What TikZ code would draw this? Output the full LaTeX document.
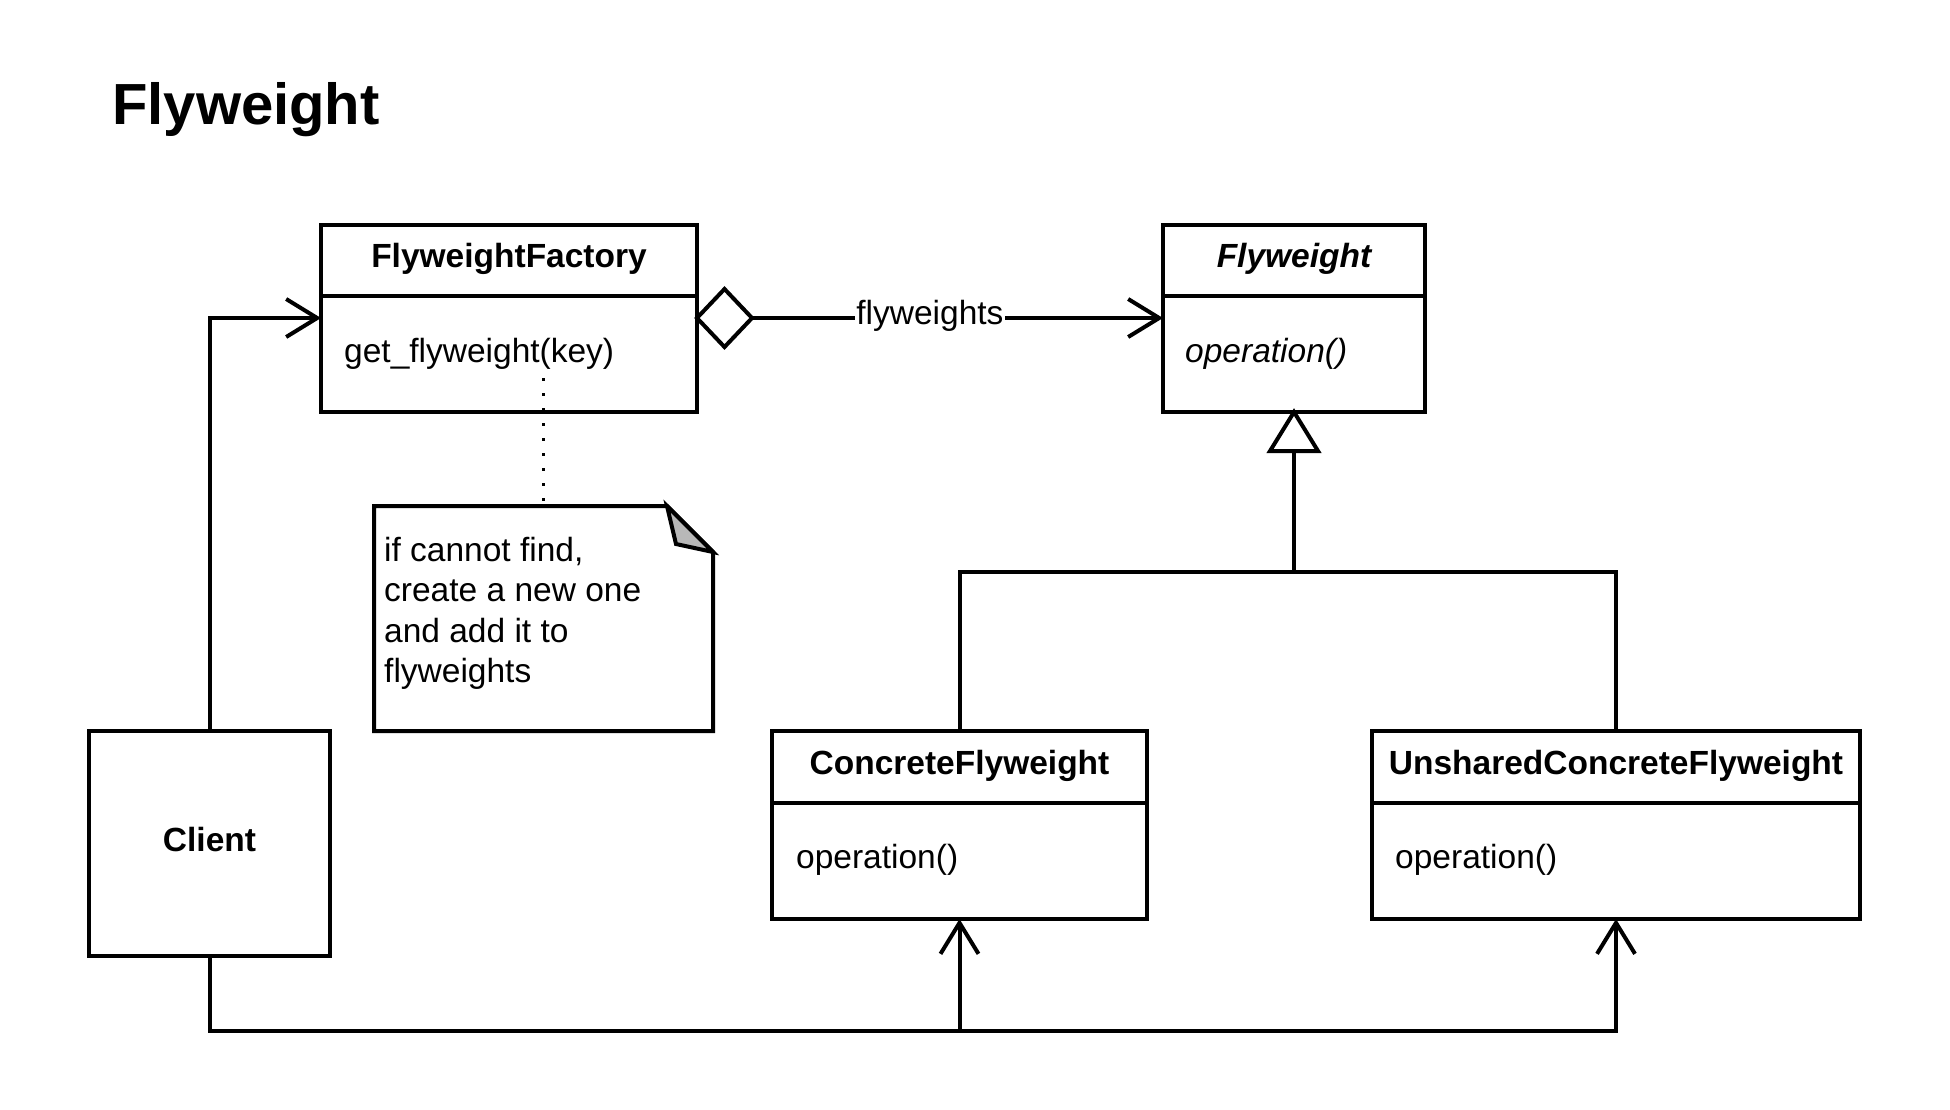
\documentclass[tikz,border=0pt]{standalone}
\usepackage{fontspec}
\setmainfont{Liberation Sans}
\usetikzlibrary{arrows.meta}
\begin{document}
\begin{tikzpicture}[x=1pt,y=-1pt,
  box/.style={draw, line width=4pt, inner sep=0pt, outer sep=0pt, anchor=north west},
  txt/.style={inner sep=0pt, font=\fontsize{33.5}{40}\selectfont},
  btxt/.style={inner sep=0pt, font=\fontsize{33.5}{40}\selectfont\bfseries},
  conn/.style={line width=4pt},
  barb/.style={-{Straight Barb[length=31pt,width=38pt]}},
]
\useasboundingbox[fill=white] (0,0) rectangle (1950,1109);

% title
\node[inner sep=0pt, anchor=base west, font=\fontsize{58}{70}\selectfont\bfseries] (title) at (112,124) {Flyweight};

% FlyweightFactory
\node[box, minimum width=376pt, minimum height=71pt] (ffh) at (321,225) {};
\node[box, minimum width=376pt, minimum height=116pt] (ffb) at (321,296) {};
\node[btxt, anchor=base] (fft) at (ffh.center |- 0,267) {FlyweightFactory};
\node[txt, anchor=base west] (ffop) at (344,362) {get\_flyweight(key)};

% Flyweight
\node[box, minimum width=262pt, minimum height=71pt] (fwh) at (1163,225) {};
\node[box, minimum width=262pt, minimum height=116pt] (fwb) at (1163,296) {};
\node[btxt, anchor=base, font=\fontsize{33.5}{40}\selectfont\bfseries\itshape] (fwt) at (fwh.center |- 0,267) {Flyweight};
\node[txt, anchor=base west, font=\fontsize{33.5}{40}\selectfont\itshape] (fwop) at (1185,362) {operation()};

% Client
\node[box, minimum width=241pt, minimum height=225pt] (client) at (89,731) {};
\node[btxt, anchor=base] (clt) at (client.center |- 0,851) {Client};

% ConcreteFlyweight
\node[box, minimum width=375pt, minimum height=72pt] (cfh) at (772,731) {};
\node[box, minimum width=375pt, minimum height=116pt] (cfb) at (772,803) {};
\node[btxt, anchor=base] (cft) at (cfh.center |- 0,774) {ConcreteFlyweight};
\node[txt, anchor=base west] (cfop) at (796,868) {operation()};

% UnsharedConcreteFlyweight
\node[box, minimum width=488pt, minimum height=72pt] (uch) at (1372,731) {};
\node[box, minimum width=488pt, minimum height=116pt] (ucb) at (1372,803) {};
\node[btxt, anchor=base] (uct) at (uch.center |- 0,774) {UnsharedConcreteFlyweight};
\node[txt, anchor=base west] (ucop) at (1395,868) {operation()};

% note
\node[inner sep=0pt, outer sep=0pt, minimum width=339pt, minimum height=225pt, anchor=north west] (note) at (374,506) {};
\draw[line width=4pt, line join=miter] (note.north west) -- ([xshift=-46pt]note.north east) -- ([yshift=-46pt]note.north east) -- (note.south east) -- (note.south west) -- cycle;
\draw[line width=4pt, fill=black!28, line join=miter] ([xshift=-46pt]note.north east) -- ([xshift=-37pt,yshift=-38pt]note.north east) -- ([yshift=-46pt]note.north east) -- cycle;
\node[txt, anchor=base west] (n1) at (384,561) {if cannot find,};
\node[txt, anchor=base west] (n2) at (384,601.6) {create a new one};
\node[txt, anchor=base west] (n3) at (384,642.2) {and add it to};
\node[txt, anchor=base west] (n4) at (384,682.8) {flyweights};

% dotted link
\draw[line width=2.5pt, dash pattern=on 2.5pt off 12.5pt] ([yshift=34pt]ffb.south -| note.north) -- (note.north);

% Client -> Factory
\draw[conn, barb] (client.north) |- ([yshift=-22pt]ffb.north west);

% aggregation
\coordinate (dl) at ([yshift=-22pt]ffb.north east);
\coordinate (dr) at ([xshift=55pt]dl);
\draw[line width=4pt, fill=white, line join=miter] (dl) -- ++(27.5,-29) -- (dr) -- ++(-27.5,29) -- cycle;
\draw[conn, barb] (dr) -- ([yshift=-22pt]fwb.north west)
  node[pos=0.433, txt, anchor=base, fill=white, inner xsep=1pt, inner ysep=3pt, yshift=-6pt] (agl) {flyweights};

% generalization
\coordinate (gj) at (fwb.south |- 0,572);
\coordinate (tb) at ([yshift=-39pt]fwb.south);
\draw[conn] (cfh.north) |- (gj) -| (uch.north);
\draw[conn] (gj) -- (tb);
\draw[line width=4pt, fill=white, line join=miter] (fwb.south) -- ([xshift=-24pt]tb) -- ([xshift=24pt]tb) -- cycle;

% client -> concrete flyweights
\coordinate (bj) at (client.south |- 0,1031);
\draw[conn, barb] (client.south) -- (bj) -| (ucb.south);
\draw[conn, barb] (cfb.south |- bj) -- (cfb.south);
\end{tikzpicture}
\end{document}
